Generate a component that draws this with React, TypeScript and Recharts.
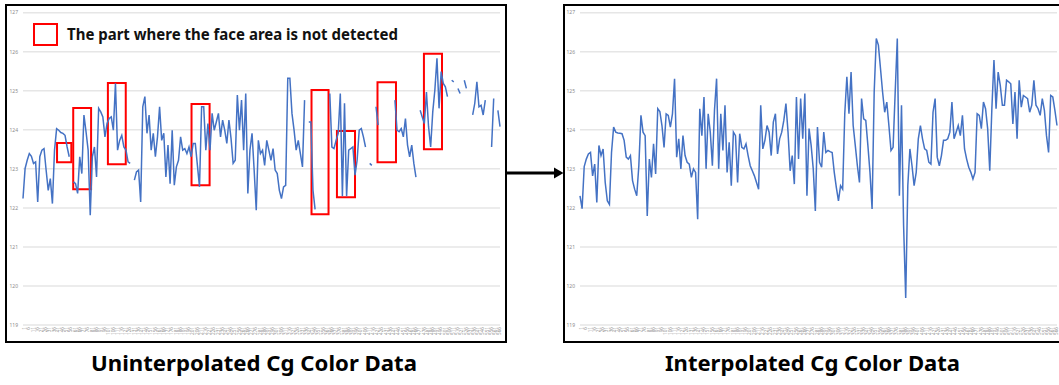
import React from "react";
import {
  LineChart,
  Line,
  XAxis,
  YAxis,
  CartesianGrid,
  ReferenceArea,
} from "recharts";

// frame numbers printed under the x axis (one label for every 2 samples)
const frameLabels = [
  1, 6, 11, 16, 21, 26, 31, 36, 41, 46,
  51, 56, 61, 66, 71, 76, 81, 86, 91, 96,
  101, 106, 111, 116, 121, 126, 131, 136, 141, 146,
  151, 156, 161, 166, 171, 176, 181, 186, 191, 196,
  201, 206, 211, 216, 221, 226, 231, 236, 241, 246,
  251, 256, 261, 266, 271, 276, 281, 286, 291, 296,
  301, 306, 311, 316, 321, 326, 331, 336, 341, 346,
  351, 356, 361, 366, 371, 376, 381, 386, 391, 396,
  401, 406, 411, 416, 421, 426, 431, 436, 441, 446,
  451, 456, 461, 466, 471, 476, 481, 486, 491, 496,
  501, 506, 511, 516, 521, 526, 531, 536, 541, 546,
  551, 556, 561, 566,
];

// Cg before interpolation (null = face not detected)
const cgRaw = [
  122.24, 123.01, 123.22, 123.39, 123.32, 123.14, 123.18, 122.15, 123.31, 123.48,
  123.52, 122.97, 122.45, 122.75, 122.11, 123.48, 124.03, 123.99, 123.93, 123.91,
  123.86, 123.56, 123.31, null, 122.67, 122.62, 122.37, 123.31, 122.88, 124.38,
  123.95, 123.48, 121.81, 123.31, 123.56, 122.79, 124.55, 124.46, 124.33, 123.82,
  124.16, 124.29, 124.33, 123.99, 125.19, 123.48, 123.73, 123.86, 123.56, 123.48,
  123.18, 123.14, null, 122.71, 122.92, 122.97, 122.15, 124.59, 124.85, 123.91,
  124.38, 123.48, 123.91, 123.31, 123.82, 124.59, 123.73, 123.91, 122.79, 123.61,
  122.62, 123.99, 122.58, 123.05, 123.22, 123.82, 123.48, 123.52, 123.39, 123.56,
  123.31, 123.65, 123.65, 123.09, 122.54, 124.59, 124.59, 123.48, 124.16, 123.48,
  124.42, 123.99, 124.2, 124.42, 123.82, 124.25, 123.99, 123.65, 124.25, 123.78,
  123.14, 123.22, 124.89, 123.99, 124.76, 123.48, 124.93, 122.37, 123.48, 123.91,
  122.97, 121.94, 123.73, 123.39, 123.48, 123.09, 123.73, 123.48, 123.22, 123.52,
  122.97, 122.88, 122.45, 122.24, 122.54, 122.58, 125.32, 125.32, 124.42, 123.99,
  123.48, 123.73, 123.39, 123.05, 124.76, null, 124.2, 124.2, 122.45, 121.96,
  null, null, null, null, null, null, 124.93, 123.56, 123.52, 123.73,
  123.91, 124.93, 122.3, 124.68, 122.3, 123.48, 123.52, 123.56, 122.84, 123.22,
  123.99, 124.03, 123.82, 123.56, null, 123.14, 123.09, null, 124.59, 124.12,
  null, null, null, null, null, null, null, 124.76, 123.99, 123.95,
  124.03, 123.82, 124.29, 123.61, 123.31, 123.61, 123.14, 122.79, null, 124.5,
  124.33, 124.16, 124.97, 124.08, 123.56, 124.46, 125.02, 125.83, 124.55, 125.49,
  125.19, 125.1, 124.85, null, 125.27, 125.23, null, 125.06, 124.93, null,
  125.27, 125.06, null, null, 124.38, 124.68, 125.23, 124.59, 124.63, 124.38,
  124.76, null, null, 123.56, 124.8, null, 124.5, 124.08,
];

// Cg after interpolation
const cgInterpolated = [
  122.31, 121.98, 123.06, 123.25, 123.38, 123.42, 122.82, 123.12, 122.14, 123.6,
  123.34, 123.51, 122.65, 122.18, 122.09, 123.42, 124.07, 123.94, 123.92, 123.91,
  123.9, 123.73, 123.3, 123.25, 123.34, 122.7, 122.48, 122.31, 123.08, 124.37,
  123.94, 123.85, 121.79, 123.25, 122.78, 123.64, 122.87, 124.54, 124.47, 124.11,
  123.55, 124.41, 124.37, 124.07, 124.41, 125.31, 123.3, 123.77, 123.0, 123.85,
  123.34, 123.17, 123.12, 122.78, 123.0, 122.91, 121.71, 124.54, 123.85, 124.84,
  123.0, 124.41, 123.94, 123.08, 124.5, 125.31, 123.0, 124.41, 123.47, 124.63,
  122.91, 123.68, 122.57, 123.94, 123.85, 122.65, 123.9, 123.55, 123.51, 123.64,
  123.34, 123.08, 122.95, 122.82, 122.65, 122.48, 124.63, 123.51, 123.73, 124.11,
  123.94, 123.34, 124.2, 124.41, 123.38, 123.77, 123.94, 124.24, 124.67, 123.94,
  122.95, 123.34, 122.61, 124.84, 123.25, 124.8, 123.77, 124.93, 122.31, 124.03,
  123.6, 123.0, 121.92, 124.07, 123.17, 123.04, 123.94, 123.42, 123.47, 123.44,
  123.42, 122.91, 122.52, 122.18, 122.57, 122.48, 124.41, 125.36, 124.41, 125.48,
  124.11, 123.6, 123.08, 122.65, 124.8, 124.28, 124.24, 123.6, 122.91, 121.97,
  124.97, 126.34, 126.17, 125.57, 124.97, 124.45, 124.71, 124.11, 123.47, 123.55,
  124.97, 126.34, 122.31, 124.63, 121.54, 119.69, 122.57, 123.51, 123.08, 122.57,
  122.91, 123.77, 124.11, 123.77, 123.51, 123.47, 123.17, 123.12, 124.45, 124.8,
  123.3, 123.08, 123.34, 123.73, 123.73, 123.77, 123.94, 124.71, 123.77, 123.94,
  124.11, 123.85, 124.37, 123.51, 123.25, 123.04, 122.91, 122.74, 122.91, 124.41,
  124.37, 124.03, 124.71, 124.54, 124.03, 122.95, 124.54, 125.79, 124.54, 125.48,
  125.14, 124.63, 124.63, 125.27, 125.23, 125.18, 124.15, 124.97, 123.77, 125.27,
  124.58, 124.88, 124.84, 124.8, 124.45, 124.63, 125.27, 124.63, 124.54, 124.37,
  124.8, 124.5, 123.85, 123.42, 124.88, 124.84, 124.5, 124.11,
];

const yTicks = [119, 120, 121, 122, 123, 124, 125, 126, 127];

// red boxes on the left chart: [fromSample, toSample, topCg, bottomCg]
const missingSpans = [
  [16.2, 23.0, 123.66, 123.17],
  [23.9, 32.4, 124.56, 122.48],
  [40.4, 48.9, 125.2, 123.12],
  [80.2, 88.8, 124.66, 122.58],
  [137.3, 145.4, 125.02, 121.84],
  [149.4, 158.0, 123.97, 122.27],
  [168.7, 177.5, 125.22, 123.17],
  [190.8, 199.4, 125.95, 123.5],
];

const FONT = "'Noto Sans', 'DejaVu Sans', sans-serif";
const xTicks = frameLabels.map((_, k) => k * 2);

function CgChart({
  values,
  width,
  yWidth,
  rightPad,
  spans,
}: {
  values: (number | null)[];
  width: number;
  yWidth: number;
  rightPad: number;
  spans?: number[][];
}) {
  const data = values.map((v, i) => ({ idx: i, cg: v }));

  return (
    <LineChart
      width={width}
      height={345}
      data={data}
      margin={{ top: 12.7, right: rightPad, bottom: 6, left: 0 }}
    >
      <CartesianGrid vertical={false} stroke="#e6e6e6" strokeWidth={1.5} />
      <XAxis
        dataKey="idx"
        type="number"
        domain={[0, values.length - 1]}
        ticks={xTicks}
        interval={0}
        tickFormatter={(v: number) => String(frameLabels[v / 2])}
        angle={-90}
        textAnchor="end"
        tick={{ fontSize: 4.6, fill: "#959595", fontFamily: FONT }}
        axisLine={false}
        tickLine={false}
        tickSize={0}
        tickMargin={2}
        height={14}
      />
      <YAxis
        domain={[119, 127]}
        ticks={yTicks}
        interval={0}
        tick={{ fontSize: 5, fill: "#8c8c8c", fontFamily: FONT }}
        axisLine={false}
        tickLine={false}
        tickSize={0}
        tickMargin={5}
        width={yWidth}
      />
      {spans?.map(([x1, x2, y1, y2]) => (
        <ReferenceArea
          key={x1}
          x1={x1}
          x2={x2}
          y1={y1}
          y2={y2}
          fill="none"
          stroke="#ff0000"
          strokeWidth={2}
          ifOverflow="visible"
        />
      ))}
      <Line
        type="linear"
        dataKey="cg"
        stroke="#4472C4"
        strokeWidth={1.5}
        dot={false}
        activeDot={false}
        isAnimationActive={false}
      />
    </LineChart>
  );
}

const frameBox: React.CSSProperties = {
  position: "absolute",
  top: 4,
  height: 339,
  border: "2px solid #000",
  boxSizing: "border-box",
};

export default function App() {
  return (
    <div
      style={{
        position: "absolute",
        left: 0,
        top: 0,
        width: 1059,
        height: 385,
        background: "#fff",
        overflow: "hidden",
      }}
    >
      <div style={{ ...frameBox, left: 5, width: 502 }} />
      <div style={{ ...frameBox, left: 563, width: 498 }} />

      <div style={{ position: "absolute", left: 0, top: 0 }}>
        <CgChart values={cgRaw} width={505} yWidth={23} rightPad={5} spans={missingSpans} />
      </div>
      <div style={{ position: "absolute", left: 560, top: 0 }}>
        <CgChart values={cgInterpolated} width={500} yWidth={20} rightPad={3} />
      </div>

      <svg
        width={1059}
        height={385}
        style={{ position: "absolute", left: 0, top: 0, pointerEvents: "none" }}
      >
        {/* legend */}
        <rect x={34} y={24} width={23} height={21} fill="none" stroke="#ff0000" strokeWidth={2} />
        <text
          x={67}
          y={40}
          fontFamily={FONT}
          fontWeight={700}
          fontSize={15.5}
          textLength={331}
          lengthAdjust="spacingAndGlyphs"
          fill="#111"
        >
          The part where the face area is not detected
        </text>

        {/* arrow between the two charts */}
        <line x1={507} y1={173} x2={556} y2={173} stroke="#000" strokeWidth={3} />
        <polygon points="554,167.5 563.5,173 554,178.5" fill="#000" />

        {/* captions */}
        <text
          x={254}
          y={371}
          textAnchor="middle"
          fontFamily={FONT}
          fontWeight={700}
          fontSize={22}
          textLength={326}
          lengthAdjust="spacingAndGlyphs"
          fill="#000"
        >
          Uninterpolated Cg Color Data
        </text>
        <text
          x={812.5}
          y={371}
          textAnchor="middle"
          fontFamily={FONT}
          fontWeight={700}
          fontSize={22}
          textLength={295}
          lengthAdjust="spacingAndGlyphs"
          fill="#000"
        >
          Interpolated Cg Color Data
        </text>
      </svg>
    </div>
  );
}
